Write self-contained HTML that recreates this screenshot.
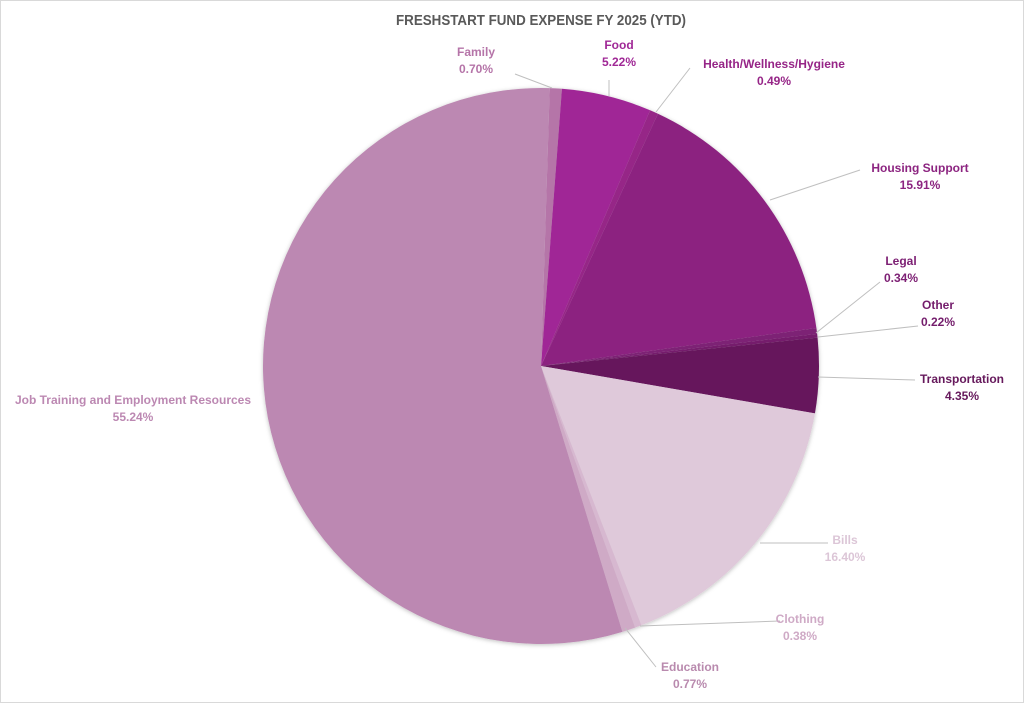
<!DOCTYPE html>
<html><head><meta charset="utf-8"><style>
body{margin:0;background:#fff;}
svg{display:block;font-family:"Liberation Sans",sans-serif;}
</style></head><body>
<svg width="1024" height="703" viewBox="0 0 1024 703">
<defs><filter id="sh" x="-10%" y="-10%" width="120%" height="120%"><feDropShadow dx="0" dy="1" stdDeviation="2" flood-color="#000" flood-opacity="0.25"/></filter></defs>
<rect x="0.5" y="0.5" width="1023" height="702" fill="#fff" stroke="#d9d9d9"/>
<text x="541" y="25" text-anchor="middle" font-size="14.5" font-weight="bold" fill="#595959" textLength="290" lengthAdjust="spacingAndGlyphs">FRESHSTART FUND EXPENSE FY 2025 (YTD)</text>
<g id="slices" filter="url(#sh)"></g>
<g id="labels"></g>
<script>
const categories=["Family","Food","Health/Wellness/Hygiene","Housing Support","Legal","Other","Transportation","Bills","Clothing","Education","Job Training and Employment Resources"];
const values=[0.70,5.22,0.49,15.91,0.34,0.22,4.35,16.40,0.38,0.77,55.24];
const valueLabels=["0.70%","5.22%","0.49%","15.91%","0.34%","0.22%","4.35%","16.40%","0.38%","0.77%","55.24%"];
const colors=["#b574a8","#a02896","#962587","#8c2480","#7d2074","#741d6c","#66195c","#dfc9da","#d7b8d0","#cfaac6","#bc88b2"];
const labelColors=["#b574a8","#a02896","#962587","#8c2480","#7d2074","#741d6c","#66195c","#dcc6d7","#cfaac6","#b98aae","#bc88b2"];
const cx=541,cy=366,R=278,start=1.8;
const labelPos=[[476,56],[619,49],[774,68],[920,172],[901,265],[938,309],[962,383],[845,544],[800,623],[690,671],[133,404]];
const leaders=[[515,74,552,88],[609,80,609,96],[690,68,656,112],[860,170,770,200],[880,282,816,333],[918,326,818,337],[915,380,818,377],[828,543,760,543],[780,621,640,626],[656,667,625,628],null];
const ns="http://www.w3.org/2000/svg";
const total=values.reduce((a,b)=>a+b,0);
function pt(deg){const r=(deg-90)*Math.PI/180;return [cx+R*Math.cos(r),cy+R*Math.sin(r)];}
let a=start;
const sg=document.getElementById('slices'),lg=document.getElementById('labels');
values.forEach((v,i)=>{
 const sweep=v/total*360,b=a+sweep;
 const p1=pt(a),p2=pt(b);
 const path=document.createElementNS(ns,'path');
 path.setAttribute('d',`M${cx},${cy}L${p1[0]},${p1[1]}A${R},${R} 0 ${sweep>180?1:0} 1 ${p2[0]},${p2[1]}Z`);
 path.setAttribute('fill',colors[i]);
 
 
 sg.appendChild(path);
 a=b;
 if(leaders[i]){const l=leaders[i];const ln=document.createElementNS(ns,'line');
  ln.setAttribute('x1',l[0]);ln.setAttribute('y1',l[1]);ln.setAttribute('x2',l[2]);ln.setAttribute('y2',l[3]);
  ln.setAttribute('stroke','#bfbfbf');ln.setAttribute('stroke-width','1');
  
  
  lg.appendChild(ln);}
 const t=document.createElementNS(ns,'text');
 t.setAttribute('x',labelPos[i][0]);t.setAttribute('y',labelPos[i][1]);
 t.setAttribute('text-anchor','middle');t.setAttribute('font-size','12');t.setAttribute('font-weight','bold');t.setAttribute('fill',labelColors[i]);
 
 
 const s1=document.createElementNS(ns,'tspan');s1.setAttribute('x',labelPos[i][0]);s1.textContent=categories[i];
 const s2=document.createElementNS(ns,'tspan');s2.setAttribute('x',labelPos[i][0]);s2.setAttribute('dy','17');s2.textContent=valueLabels[i];
 t.appendChild(s1);t.appendChild(s2);lg.appendChild(t);
});
</script>
</svg>
</body></html>
